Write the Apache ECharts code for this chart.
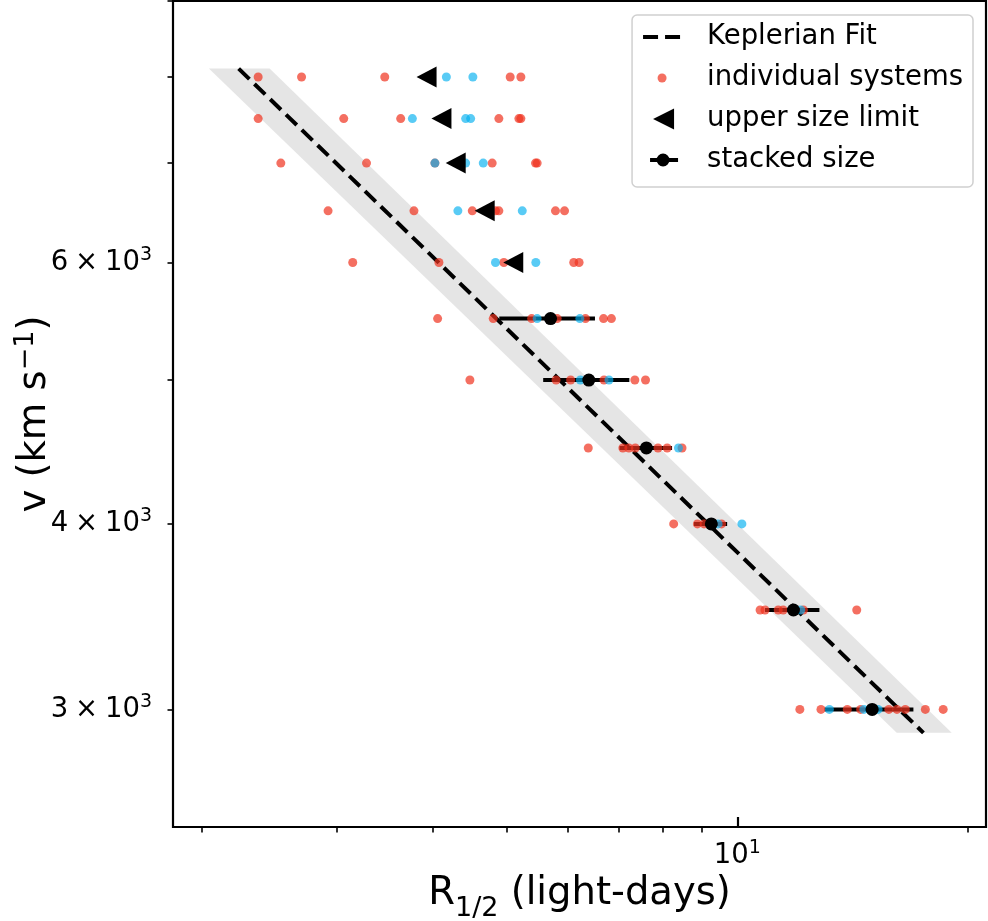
<!DOCTYPE html>
<html><head><meta charset="utf-8">
<script src="https://cdn.jsdelivr.net/npm/echarts@6/dist/echarts.min.js"></script>
<style>html,body{margin:0;padding:0;background:#fff}#c{width:988px;height:921px}</style>
</head><body><div id="c"></div>
<script>
// ---- data ----
const rowV = [8000, 7500, 7000, 6500, 6000, 5500, 5000, 4500, 4000, 3500, 3000];
const redR = [
  [2.369, 2.699, 3.466, 5.053, 5.218],
  [2.369, 3.064, 3.636, 4.884, 5.187, 5.218],
  [2.536, 3.281, 4.030, 4.787, 5.453, 5.48],
  [2.923, 3.784, 4.509, 4.835, 4.884, 5.79, 5.95],
  [3.148, 4.079, 4.958, 6.117, 6.216],
  [4.063, 4.802, 5.39, 5.82, 6.336, 6.69, 6.85],
  [4.477, 5.80, 6.06, 6.70, 7.35, 7.59],
  [6.39, 7.09, 7.22, 7.36, 7.88, 8.10, 8.47],
  [8.26, 8.87, 9.05, 9.54],
  [10.71, 10.87, 11.31, 11.48, 12.2, 14.32],
  [12.07, 12.86, 13.92, 14.49, 15.77, 16.16, 16.57, 17.60, 18.57]
];
const blueR = [
  [4.171, 4.517],
  [3.766, 4.420, 4.487],
  [4.030, 4.420, 4.660],
  [4.318, 5.24],
  [4.835, 5.458],
  [5.48, 6.23],
  [6.24, 6.80],
  [8.38],
  [9.44, 10.14],
  [12.1],
  [13.19, 14.63, 15.27]
];
const limitV = [8000, 7500, 7000, 6500, 6000];
const limitR = [3.93, 4.11, 4.29, 4.68, 5.10];
const stackV = [5500, 5000, 4500, 4000, 3500, 3000];
const stackR = [5.705, 6.40, 7.61, 9.25, 11.84, 15.0];
const stackLo = [4.89, 5.58, 7.02, 8.78, 10.87, 13.0];
const stackHi = [6.52, 7.23, 8.22, 9.70, 12.80, 16.98];
const fitR = [2.234, 17.50];
const fitV = [8104, 2893];
const bandV = [8104, 2893];
const bandLo = [2.043, 16.15];
const bandHi = [2.452, 19.05];
const xMajorTicks = [10];
const xMinorTicks = [2, 3, 4, 5, 6, 7, 8, 9, 20];
const yTicks = [3000, 4000, 5000, 6000, 7000, 8000, 9000];
const yLabelTicks = [3000, 4000, 6000];
const xRange = [1.834, 21.12];
const yRange = [2500, 9000];

// ---- build ----
const FONT = 'DejaVu Sans';
const RED = 'rgba(240,50,30,0.7)';
const BLUE = 'rgba(0,175,240,0.65)';
function pts(rows) {
  const out = [];
  rows.forEach((rs, i) => rs.forEach(r => out.push([r, rowV[i]])));
  return out;
}
function sciLabel(v) {
  const e = Math.floor(Math.log10(v) + 1e-9);
  const m = Math.round(v / Math.pow(10, e));
  return (m === 1 ? '{b|10}' : '{b|' + m + '\u2005×\u200510}') + '{sup|' + e + '}';
}
const tickRich = {
  b: {fontSize: 27.5, lineHeight: 34, fontFamily: FONT, color: '#000'},
  sup: {fontSize: 19, lineHeight: 19, verticalAlign: 'top', fontFamily: FONT, color: '#000'}
};
const frame = 'M0,0L0,0M40,24L40,24';
const icons = {
  dash: 'path://' + frame + 'M1,10H16V14H1ZM23,10H38V14H23Z',
  dot: 'path://' + frame + 'M15.5,12A4.5,4.5,0,1,1,24.5,12A4.5,4.5,0,1,1,15.5,12Z',
  tri: 'path://' + frame + 'M11,12L32,1.5L32,22.5Z',
  stack: 'path://' + frame + 'M8,10H36V14H8ZM14.5,12A6.5,6.5,0,1,1,27.5,12A6.5,6.5,0,1,1,14.5,12Z'
};

const chart = echarts.init(document.getElementById('c'), null, {renderer: 'canvas'});
chart.setOption({
  animation: false,
  backgroundColor: '#fff',
  textStyle: {fontFamily: FONT},
  grid: {left: 173, right: 2, top: 1, bottom: 94, containLabel: false, outerBoundsMode: 'none',
         show: true, borderColor: '#000', borderWidth: 2.2, backgroundColor: 'transparent'},
  legend: {
    orient: 'vertical', right: 15, top: 15,
    padding: [8, 10, 13, 10], itemGap: 13, itemWidth: 40, itemHeight: 24,
    backgroundColor: '#fff', borderColor: '#d0d0d0', borderWidth: 1.5, borderRadius: 5,
    selectedMode: false,
    itemStyle: {borderWidth: 0, opacity: 1},
    textStyle: {fontSize: 27.5, lineHeight: 27.5, fontFamily: FONT, color: '#000', padding: [0, 0, 0, 20]},
    data: [
      {name: 'Keplerian Fit', icon: icons.dash},
      {name: 'individual systems', icon: icons.dot},
      {name: 'upper size limit', icon: icons.tri},
      {name: 'stacked size', icon: icons.stack}
    ]
  },
  xAxis: [{
    type: 'log', min: xRange[0], max: xRange[1], gridIndex: 0,
    axisLine: {show: false}, splitLine: {show: false}, minorTick: {show: false},
    axisTick: {show: true, inside: true, length: 10, lineStyle: {color: '#000', width: 2.2}, customValues: xMajorTicks},
    axisLabel: {show: true, margin: 12, customValues: xMajorTicks, formatter: sciLabel, rich: tickRich},
    name: '{t|R}{sub|1/2}{t| (light-days)}', nameLocation: 'middle', nameGap: 39, nameMoveOverlap: false,
    nameTextStyle: {rich: {
      t: {fontSize: 38.5, lineHeight: 56, fontFamily: FONT, color: '#000'},
      sub: {fontSize: 27, lineHeight: 27, verticalAlign: 'bottom', fontFamily: FONT, color: '#000'}
    }}
  }, {
    type: 'log', min: xRange[0], max: xRange[1], gridIndex: 0, position: 'bottom',
    axisLine: {show: false}, splitLine: {show: false}, minorTick: {show: false},
    axisTick: {show: true, inside: false, length: 5.5, lineStyle: {color: '#000', width: 1.6}, customValues: xMinorTicks},
    axisLabel: {show: false}
  }],
  yAxis: {
    type: 'log', min: yRange[0], max: yRange[1],
    axisLine: {show: false}, splitLine: {show: false}, minorTick: {show: false},
    axisTick: {show: true, inside: false, length: 5.5, lineStyle: {color: '#000', width: 1.6}, customValues: yTicks},
    axisLabel: {show: true, margin: 21, customValues: yLabelTicks, formatter: sciLabel, rich: tickRich},
    name: '{t|v (km s}{sup|\u22121}{t|)}', nameLocation: 'middle', nameRotate: 90, nameGap: 115, nameMoveOverlap: false,
    nameTextStyle: {rich: {
      t: {fontSize: 38.5, lineHeight: 46, fontFamily: FONT, color: '#000'},
      sup: {fontSize: 27, lineHeight: 27, verticalAlign: 'top', fontFamily: FONT, color: '#000'}
    }}
  },
  series: [
    {
      type: 'custom', name: 'band', silent: true, z: 1, xAxisIndex: 0,
      data: [[bandLo[0], bandV[0], bandHi[0], bandV[0], bandHi[1], bandV[1], bandLo[1], bandV[1]]],
      encode: {x: [0, 2, 4, 6], y: [1, 3, 5, 7]},
      renderItem: (params, api) => {
        const p = [];
        for (let k = 0; k < 4; k++) p.push(api.coord([api.value(2 * k), api.value(2 * k + 1)]));
        return {type: 'polygon', shape: {points: p}, style: {fill: '#e5e5e5'}};
      }
    },
    {
      type: 'line', name: 'Keplerian Fit', z: 2, xAxisIndex: 0, symbol: 'none', silent: true,
      data: fitR.map((r, i) => [r, fitV[i]]),
      itemStyle: {color: '#000'},
      lineStyle: {color: '#000', width: 4, type: [15, 7]}
    },
    {
      type: 'custom', name: 'stacked err', z: 3, xAxisIndex: 0, silent: true,
      data: stackV.map((v, i) => [stackLo[i], stackHi[i], v]),
      encode: {x: [0, 1], y: 2},
      renderItem: (params, api) => {
        const a = api.coord([api.value(0), api.value(2)]);
        const b = api.coord([api.value(1), api.value(2)]);
        return {type: 'line', shape: {x1: a[0], y1: a[1], x2: b[0], y2: b[1]}, style: {stroke: '#000', lineWidth: 4}};
      }
    },
    {
      type: 'scatter', name: 'individual systems', z: 4, xAxisIndex: 0, silent: true,
      symbol: 'circle', symbolSize: 9, itemStyle: {color: RED, opacity: 1},
      data: pts(redR)
    },
    {
      type: 'scatter', name: 'individual systems (b)', z: 4, xAxisIndex: 0, silent: true,
      symbol: 'circle', symbolSize: 9, itemStyle: {color: BLUE, opacity: 1},
      data: pts(blueR)
    },
    {
      type: 'scatter', name: 'upper size limit', z: 5, xAxisIndex: 0, silent: true,
      symbol: 'triangle', symbolSize: [21, 20], symbolRotate: 90, itemStyle: {color: '#000', opacity: 1},
      data: limitR.map((r, i) => [r, limitV[i]])
    },
    {
      type: 'scatter', name: 'stacked size', z: 5, xAxisIndex: 0, silent: true,
      symbol: 'circle', symbolSize: 13, itemStyle: {color: '#000', opacity: 1},
      data: stackR.map((r, i) => [r, stackV[i]])
    }
  ]
});
</script>
</body></html>
